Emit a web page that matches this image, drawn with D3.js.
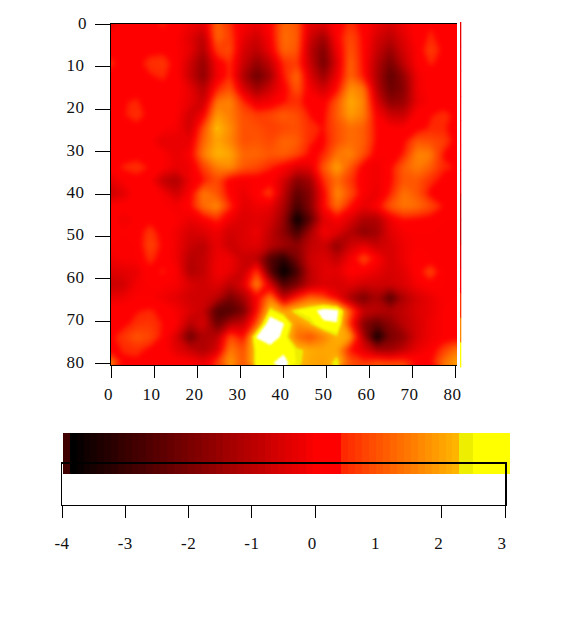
<!DOCTYPE html>
<html><head><meta charset="utf-8">
<style>html,body{margin:0;padding:0;background:#fff}svg{display:block}
text{font-family:"Liberation Serif",serif;font-size:17px;fill:#111}</style>
<script src="https://cdn.jsdelivr.net/npm/d3@7"></script></head><body><svg id="c" width="574" height="618"></svg>
<script>
const xTicks=[0,10,20,30,40,50,60,70,80];
const yTicks=[0,10,20,30,40,50,60,70,80];
const barTicks=[-4,-3,-2,-1,0,2,3];
const barLabels=[-4,-3,-2,-1,0,1,2,3];
const heatRows=[
[-0.4,0.1,0.1,0.2,0.4,0.1,-0.2,-0.4,1.2,0.5,-0.1,-0.3,0.1,1.2,1.0,-0.4,-0.5,0.1,0.5,0.2,-0.3,-0.6,-0.2,0.1,0.3,0.2,0.1],
[0.1,0.1,0.1,0.1,0.2,0,-0.4,-1.0,1.2,0.7,-0.3,-0.7,0,1.3,1.1,-0.7,-1.4,0.1,0.85,0.2,-0.6,-1.0,-0.4,0.1,0.4,0.2,0.1],
[0.1,0.2,0.1,0.2,0.2,0,-0.3,-1.2,0.7,0.85,-0.6,-1.0,-0.2,1.2,1.0,-1.0,-1.9,-0.2,1.0,0.2,-0.8,-1.5,-0.6,0,0.7,0.2,0],
[0.5,0.1,0.2,0.5,0.6,0.1,-0.7,-1.6,-0.1,0.5,-0.8,-1.6,-0.9,0.5,0.7,-0.8,-2.1,-0.5,1.2,0.2,-1.1,-2.0,-0.9,0,0.4,0.2,0],
[0.1,0.1,0.2,0.3,0.4,0.1,-0.8,-1.7,-0.2,0.5,-1.2,-2.2,-1.4,0.3,1.3,-0.5,-1.5,-0.2,1.2,0.3,-1.2,-2.4,-1.6,-0.2,0.1,0.2,0],
[0.1,0.1,0.2,0.2,0.2,0.1,-0.3,-1.1,0.4,1.0,-0.5,-1.4,-0.7,0,1.0,-0.1,-0.7,0.2,1.8,1.4,-1.0,-2.2,-1.8,-0.2,0.1,0.1,0],
[0.1,0.3,0.4,0.1,0.1,0,-0.3,-0.8,1.4,1.6,0.5,-0.3,-0.1,0.3,0.5,0.1,0,1.0,2.1,1.6,-0.5,-1.7,-1.5,-0.3,0,0.1,0.1],
[0.1,0.3,0.5,0.2,0.1,0,-0.7,0,1.9,1.5,0.9,0.7,0.8,1.1,0.9,0.3,0.2,1.1,1.9,1.5,0,-0.7,-0.8,0.1,0.3,0.5,0.2],
[0.1,0.1,0.2,0.1,0,-0.1,-0.7,0.9,2.3,1.7,0.9,0.9,0.7,0.8,0.9,0.5,0.3,0.9,1.3,1.1,0.2,0,0,0.1,0.4,0.4,0.1],
[0.3,0.1,0.1,0,-0.4,-0.3,-0.3,1.2,2.0,1.6,0.9,1.0,0.8,1.2,1.1,0.4,0.2,0.9,1.3,1.1,0.2,0.1,0.2,1.0,0.9,0.7,0.1],
[0.1,0.1,0.2,0.1,0,-0.3,0,1.5,2.2,2.0,1.2,1.2,1.0,1.1,0.8,0.2,0.4,1.4,1.6,0.9,0,0,0.4,1.6,1.5,0.3,0.2],
[0.1,0.4,0.5,0.3,0,-0.3,-0.2,0.7,1.5,1.7,1.0,0.8,0.4,0,-0.5,-0.4,1.0,2.0,1.0,0,-0.2,0.2,1.1,1.5,1.1,0.4,0.3],
[-0.4,0,0.2,0,-0.9,-1.2,-0.2,0.3,0.85,0,-0.1,0,0.1,-0.6,-1.8,-1.4,0.5,1.3,0.6,0,-0.2,0.2,1.0,1.0,0.5,0.2,0.2],
[-0.8,-0.4,0.1,0.1,-0.1,-0.7,0,1.5,1.0,0.1,-0.3,0.2,0.7,-0.9,-2.4,-1.8,0,1.7,0.9,0,-0.3,0.4,1.4,1.0,0.2,0,0.1],
[0.1,0.1,0.1,0.1,0,-0.1,0.2,1.3,1.7,0.5,-0.4,-0.2,-0.3,-1.2,-2.8,-1.8,0.1,1.3,0.3,-0.3,0.1,1.0,1.4,1.3,0.85,0.3,0.1],
[0.1,-0.2,0,0.2,0.2,0,-0.3,0,0.5,-0.2,-0.5,-0.4,-0.6,-1.5,-3.8,-2.4,-0.4,0,-0.5,-1.2,-1.2,-0.2,0.3,0.2,0.1,0,0],
[0.1,0,0.1,0.6,0.1,-0.2,-0.6,-0.5,-0.2,-0.7,-0.5,-0.2,-0.9,-1.7,-2.8,-1.3,-0.1,-0.4,-1.1,-1.7,-1.4,-0.4,-0.1,0,0,0,0],
[0,0,0,0.8,0.2,-0.2,-0.8,-1.0,-0.3,-0.8,-0.5,-0.4,-1.0,-1.4,-1.7,-0.9,-0.7,-1.7,-0.7,-0.3,-0.8,-0.6,-0.2,0,0,0,0],
[-0.2,0,0,0.5,0.1,-0.2,-1.1,-0.9,-0.2,-0.2,-0.8,-1.0,-2.6,-3.2,-2.0,-0.7,-0.5,-0.9,-0.1,0.85,0.1,-0.6,-0.2,0.1,0,0,0],
[-0.5,-0.4,-0.3,0.2,0.4,0,-1.2,-0.9,-0.1,-0.3,-0.8,0.7,-2.4,-3.9,-2.8,-0.9,-0.4,-0.4,0.1,0,-0.3,-0.6,-0.4,0.1,0.8,0,0],
[-0.8,-0.7,-0.1,0,0,-0.1,-0.5,-0.7,-0.4,-1.0,-0.4,1.7,-0.5,-2.6,-2.0,-0.9,-0.5,-0.6,-0.4,-0.7,-0.7,-0.7,-0.5,-0.1,0.1,0,0],
[-0.3,-0.2,0,0,-0.2,-0.4,-0.7,-0.7,-1.0,-2.0,-1.3,0,1.5,-0.9,0.4,1.2,0.85,-0.1,-1.3,-2.0,-1.3,-2.6,-1.2,-0.6,-0.3,0,0],
[0.2,0.1,0.3,0.4,0.2,-0.1,-0.5,-0.8,-2.6,-2.6,-2.0,0.1,2.5,1.9,2.5,2.8,3.5,3.4,1.0,-0.8,-1.0,-1.2,-0.9,-0.5,-0.3,0,0.1],
[0.1,0.2,0.5,0.6,0.3,0,-1.1,-0.5,-2.2,-1.1,-0.8,1.0,4.0,3.2,1.7,2.2,3.0,3.1,0.5,-1.8,-2.4,-1.7,-1.0,-0.6,-0.2,0,0.1],
[0.2,0.6,1.0,0.8,0.2,-0.6,-2.2,-1.2,-1.0,0.9,0.2,3.2,4.0,2.8,1.3,0.9,1.5,2.2,1.9,-1.2,-3.7,-2.0,-1.6,-0.6,-0.2,0,0.1],
[0.1,0.4,0.5,0.2,0.1,-0.4,-0.8,-1.2,-0.6,1.5,0.9,2.6,2.6,2.9,2.4,2.1,2.0,2.0,0.3,-0.4,-1.3,-1.4,-0.9,-0.3,0,0.7,1.4],
[1.6,0.2,0.2,0.1,0.1,0.1,0.1,-0.2,0.7,1.9,1.0,2.6,3.0,3.6,2.4,2.0,1.9,2.5,1.0,0.7,1.0,0.85,0.85,0.3,0.2,1.4,2.0]
];
const stripValues=[-0.3,-0.2,0.1,0.3,0.3,0.2,-0.2,-0.8,-0.8,-0.4,0.3,0.5,1.6,2.7];
heatRows.forEach((r,i)=>{if(r.length!==27)throw new Error("row "+i+" has "+r.length)});

const svg=d3.select("#c");
const xs=d3.scaleLinear().domain([0,80]).range([111.5,455.5]);
const ys=d3.scaleLinear().domain([0,80]).range([24,363]);
const barX=d3.scaleLinear().domain([-4,3]).range([62,505]);
const dark=d3.scaleLinear().domain([-3.9,0]).range(["#000000","#ff0000"]).clamp(true);
const warm=d3.scaleLinear().domain([0.3,2.25]).range(["#ff2000","#ffbb00"]);
function heat(v){
  if(v<-3.95)return "#400000";
  if(v<=0.3)return dark(v);
  if(v<2.25)return warm(v);
  if(v<2.47)return "#eeee00";
  if(v<3.1)return "#ffff00";
  return "#ffffff";
}
// colour bar
const step=0.11;
const barLevels=d3.range(-3.99,3.07,step);
svg.append("g").selectAll("rect").data(barLevels).join("rect")
  .attr("x",d=>barX(d)).attr("y",433).attr("height",41)
  .attr("width",d=>Math.min(barX(d+step)+0.5,510)-barX(d))
  .attr("fill",d=>heat(d)).attr("shape-rendering","crispEdges");

// heat image
const n=heatRows[0].length,m=heatRows.length;
const L=110,R=457,T=24,B=365;
const gx=d3.scaleLinear().domain([0.5,n-0.5]).range([L,R]);
const gy=d3.scaleLinear().domain([0.5,m-0.5]).range([T,363]);
const path=d3.geoPath(d3.geoTransform({point(x,y){this.stream.point(gx(x),gy(y));}}));
const levels=d3.range(-3.9,3.2,step/2);
const contours=d3.contours().size([n,m]).smooth(true).thresholds(levels)(heatRows.flat());
const defs=svg.append("defs");
defs.append("clipPath").attr("id","im").append("rect").attr("x",L).attr("y",T).attr("width",R-L).attr("height",B-T);
const blur=(id,s)=>defs.append("filter").attr("id",id).attr("filterUnits","userSpaceOnUse").attr("x",L-30).attr("y",T-30).attr("width",R-L+60).attr("height",B-T+60).attr("color-interpolation-filters","sRGB").append("feGaussianBlur").attr("stdDeviation",s);
blur("soft",2.6);blur("tight",0.9);
const gi=svg.append("g").attr("clip-path","url(#im)");
const low=gi.append("g").attr("filter","url(#soft)");
low.append("rect").attr("x",L-7).attr("y",T-7).attr("width",R-L+14).attr("height",B-T+14).attr("fill",heat(levels[0]));
low.selectAll("path").data(contours.filter(d=>d.value<2.25)).join("path").attr("d",path).attr("fill",d=>heat(d.value));
gi.append("g").attr("filter","url(#tight)").selectAll("path").data(contours.filter(d=>d.value>=2.25)).join("path").attr("d",path).attr("fill",d=>heat(d.value));

// side strip
const sb=d3.scaleBand().domain(d3.range(stripValues.length)).range([22,367]);
svg.append("g").selectAll("rect").data(stripValues).join("rect")
 .attr("x",460).attr("width",1.3).attr("y",(d,i)=>sb(i)).attr("height",sb.bandwidth()+0.5).attr("fill",d=>heat(d));

// frame
const ln=(x1,y1,x2,y2,w=1)=>svg.append("line").attr("x1",x1).attr("y1",y1).attr("x2",x2).attr("y2",y2).attr("stroke","#000").attr("stroke-width",w).attr("shape-rendering","crispEdges");
ln(110,23.5,457,23.5,1.5);ln(110.5,23,110.5,366,1.5);ln(110,365.5,457,365.5,1.5);
xTicks.forEach(t=>{const x=Math.floor(xs(t))+0.5;ln(x,365,x,378);
 svg.append("text").attr("x",xs(t)-3).attr("y",394).attr("dy","0.33em").attr("text-anchor","middle").attr("letter-spacing",0.5).text(t);});
yTicks.forEach(t=>{const y=Math.round(ys(t))+0.5;ln(95,y,110,y);
 svg.append("text").attr("x",t===0?87:84.5).attr("y",ys(t)-1).attr("dy","0.33em").attr("text-anchor","end").attr("letter-spacing",0.5).text(t);});
// bar axis box
ln(61.5,463,61.5,505.5);ln(61,463,507,463,2.2);ln(506,463,506,506,2.2);ln(61,505.5,507,505.5);
barTicks.forEach(t=>{const x=Math.floor(barX(t))+0.5;ln(x,505,x,518);});
barLabels.forEach(t=>{svg.append("text").attr("x",barX(t)-(t>=0?3:0)).attr("y",543).attr("dy","0.33em").attr("text-anchor","middle").attr("letter-spacing",0.5).text(t);});
</script></body></html>
